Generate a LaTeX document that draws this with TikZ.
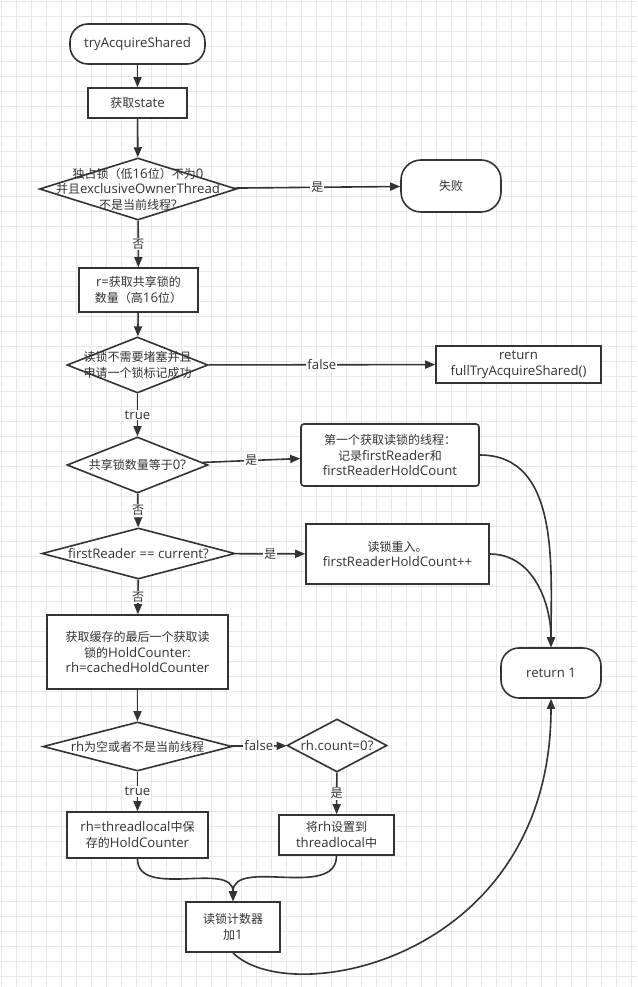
\documentclass[tikz,border=0pt]{standalone}
\usepackage{fontspec}
\setmainfont[Scale=1.1]{Open Sans}
\newfontfamily\cjkf{Noto Sans CJK SC}
\newfontfamily\latf[Scale=1.1]{Open Sans}
\XeTeXinterchartokenstate=1
\newXeTeXintercharclass\cjkclass
\newcount\cjkcc
\cjkcc="3000
\loop \XeTeXcharclass\cjkcc=\cjkclass \advance\cjkcc by 1 \ifnum\cjkcc<"A000 \repeat
\cjkcc="FF00
\loop \XeTeXcharclass\cjkcc=\cjkclass \advance\cjkcc by 1 \ifnum\cjkcc<"FFF0 \repeat
\XeTeXinterchartoks 0 \cjkclass = {\cjkf}
\XeTeXinterchartoks 4095 \cjkclass = {\cjkf}
\XeTeXinterchartoks \cjkclass 0 = {\latf}
\XeTeXinterchartoks \cjkclass 4095 = {\latf}
\usetikzlibrary{shapes.geometric,arrows.meta}
\definecolor{ln}{HTML}{333333}
\definecolor{tx}{HTML}{333333}
\definecolor{gridc}{HTML}{E8E8E8}
\begin{document}
\begin{tikzpicture}[x=1pt,y=-1pt,
  font=\fontsize{12}{15.5}\selectfont,
  box/.style={draw=ln, line width=1.6pt, fill=white, text=tx, align=center, inner sep=0pt},
  term/.style={box, rounded corners=18pt},
  dia/.style={draw=ln, line width=1.6pt, fill=white, diamond, inner sep=0pt},
  dtext/.style={text=tx, align=center, inner sep=0pt},
  conn/.style={draw=ln, line width=1.6pt, -{Triangle[length=10pt,width=8pt]}},
  lab/.style={fill=white, text=tx, inner sep=1pt}
]
\useasboundingbox (0,0) rectangle (637,987);
\fill[white] (0,0) rectangle (637,987);
\foreach \i in {1,16,...,637} \draw[gridc, line width=0.6pt] (\i,0) -- (\i,987);
\foreach \j in {1,16,...,987} \draw[gridc, line width=0.6pt] (0,\j) -- (637,\j);

% nodes
\node[term, minimum width=135, minimum height=40] (start) at (137.5,44) {tryAcquireShared};
\node[box, minimum width=99, minimum height=30] (state) at (137.5,103) {获取state};
\node[dia, minimum width=197, minimum height=62] (d1) at (138,189) {};
\node[dtext] (d1t) at (d1.center) {独占锁（低16位）不为0\\并且exclusiveOwnerThread\\不是当前线程?};
\node[term, rounded corners=20pt, minimum width=100, minimum height=52] (fail) at (451,186) {失败};
\node[box, minimum width=119, minimum height=44] (r) at (138.5,290) {r=获取共享锁的\\数量（高16位）};
\node[dia, minimum width=141, minimum height=56] (d2) at (137.5,365) {};
\node[dtext] (d2t) at (d2.center) {读锁不需要堵塞并且\\申请一个锁标记成功};
\node[box, minimum width=165, minimum height=37] (full) at (518.5,364.5) {return\\fullTryAcquireShared()};
\node[dia, minimum width=141, minimum height=56] (d3) at (137.5,465) {};
\node[dtext] (d3t) at (d3.center) {共享锁数量等于0?};
\node[box, rounded corners=3pt, minimum width=178, minimum height=62] (first) at (390,455) {第一个获取读锁的线程：\\记录firstReader和\\firstReaderHoldCount};
\node[dia, minimum width=193, minimum height=51] (d4) at (138.5,553.5) {};
\node[dtext] (d4t) at (d4.center) {firstReader == current?};
\node[box, minimum width=183, minimum height=60] (reent) at (397.5,554) {读锁重入。\\firstReaderHoldCount++};
\node[box, minimum width=181, minimum height=74] (cache) at (137.5,652) {获取缓存的最后一个获取读\\锁的HoldCounter:\\rh=cachedHoldCounter};
\node[dia, minimum width=189, minimum height=49] (d5) at (137.5,746.5) {};
\node[dtext] (d5t) at (d5.center) {rh为空或者不是当前线程};
\node[dia, minimum width=100, minimum height=53] (d6) at (337,745.5) {};
\node[dtext] (d6t) at (d6.center) {rh.count=0?};
\node[box, minimum width=141, minimum height=46] (tl) at (137.5,835) {rh=threadlocal中保\\存的HoldCounter};
\node[box, minimum width=115, minimum height=40] (set) at (336.5,835) {将rh设置到\\threadlocal中};
\node[box, minimum width=94, minimum height=50] (cnt) at (233,927) {读锁计数器\\加1};
\node[term, minimum width=100, minimum height=50] (ret) at (551,673) {return 1};

% connectors
\draw[conn] (start) -- (state);
\draw[conn] (state) -- (d1);
\draw[conn] (d1) -- node[lab] {是} (fail);
\draw[conn] (d1) -- node[lab] {否} (r);
\draw[conn] (r) -- (d2);
\draw[conn] (d2) -- node[lab] {false} (full);
\draw[conn] (d2) -- node[lab] {true} (d3);
\draw[conn] (d3) -- node[lab] {是} (first);
\draw[conn] (d3) -- node[lab] {否} (d4);
\draw[conn] (d4) -- node[lab] {是} (reent);
\draw[conn] (d4) -- node[lab] {否} (cache);
\draw[conn] (cache) -- (d5);
\draw[conn] (d5) -- node[lab] {false} (d6);
\draw[conn] (d5) -- node[lab] {true} (tl);
\draw[conn] (d6) -- node[lab] {是} (set);
\draw[conn] (tl.south) to[out=-90,in=90] (cnt.north);
\draw[conn] (set.south) to[out=-90,in=90] (cnt.north);
\draw[conn] (first.east) to[out=0,in=90] (ret.north);
\draw[conn] (reent.east) to[out=0,in=90] (ret.north);
\draw[conn] (cnt.south) .. controls (290,1010) and (551,960) .. (ret.south);
\end{tikzpicture}
\end{document}
